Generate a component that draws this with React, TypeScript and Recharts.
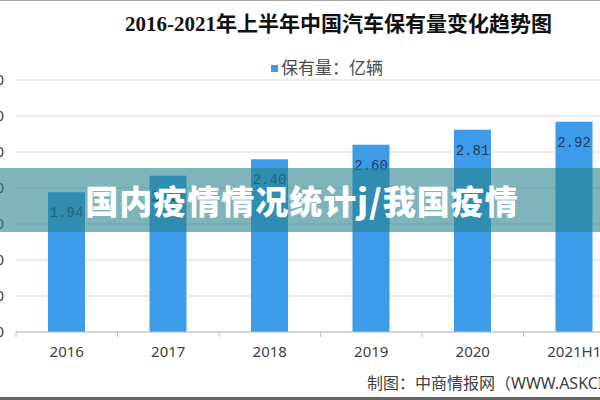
import { BarChart, Bar, XAxis, YAxis, CartesianGrid, LabelList } from "recharts";

const years = ["2016", "2017", "2018", "2019", "2020", "2021H1"];
const stock = [1.94, 2.17, 2.4, 2.6, 2.81, 2.92]; // 亿辆
const yTicks = [0, 0.5, 1, 1.5, 2, 2.5, 3, 3.5];

const title = "2016-2021年上半年中国汽车保有量变化趋势图";
const seriesName = "保有量：亿辆";
const banner = "国内疫情情况统计j/我国疫情";
const source = "制图：中商情报网（WWW.ASKCI.COM）";

const data = years.map((year, i) => ({ year, stock: stock[i] }));

const BAR = "#3d9be9";
const AXIS_W = 50;
const PLOT_W = 609;
const SANS = "'Noto Sans', 'Noto Sans CJK SC', sans-serif";

// category label + small tick mark on the left boundary of each band
function YearTick(props: any) {
  const { x, y, payload } = props;
  const half = payload?.offset || PLOT_W / years.length / 2;
  return (
    <g>
      <line x1={x - half} x2={x - half} y1={y} y2={y + 5} stroke="#bfbfbf" />
      <text x={x} y={y + 20} dy="0.35em" textAnchor="middle" fill="#404040" fontSize={15} fontFamily={SANS}>
        {payload.value}
      </text>
    </g>
  );
}

export default function App() {
  return (
    <div
      style={{
        position: "absolute",
        left: 0,
        top: 0,
        width: 600,
        height: 400,
        overflow: "hidden",
        background: "#fff",
        boxSizing: "border-box",
        borderTop: "1px solid #aaa",
        borderBottom: "3px solid #666",
      }}
    >
      <div style={{ position: "absolute", left: -34, top: -1 }}>
        <BarChart width={AXIS_W + PLOT_W} height={400} data={data} margin={{ top: 80, right: 0, bottom: 38, left: 0 }}>
          <CartesianGrid vertical={false} stroke="#d9d9d9" />
          <XAxis
            dataKey="year"
            height={30}
            axisLine={{ stroke: "#bfbfbf" }}
            tickLine={false}
            tickSize={0}
            tickMargin={0}
            interval={0}
            tick={<YearTick />}
          />
          <YAxis
            width={AXIS_W}
            domain={[0, 3.5]}
            ticks={yTicks}
            axisLine={false}
            tickLine={false}
            tickSize={6}
            tickMargin={6}
            tickFormatter={(v: number) => v.toFixed(2)}
            tick={{ fill: "#404040", fontSize: 15, fontFamily: SANS }}
          />
          <Bar dataKey="stock" fill={BAR} barSize={37} isAnimationActive={false}>
            <LabelList
              dataKey="stock"
              position="insideTop"
              offset={15}
              fill="#1f3864"
              fontSize={14}
              fontFamily="'Liberation Mono', monospace"
              formatter={(v: any) => Number(v).toFixed(2)}
            />
          </Bar>
        </BarChart>
      </div>

      <div
        style={{
          position: "absolute",
          left: 125,
          top: 13,
          fontSize: 21,
          lineHeight: "21px",
          fontWeight: 700,
          fontFamily: "'Liberation Serif', 'Noto Sans CJK SC', serif",
          color: "#111",
          whiteSpace: "nowrap",
        }}
      >
        {title}
      </div>

      <div style={{ position: "absolute", left: 271, top: 58, display: "flex", alignItems: "center", whiteSpace: "nowrap" }}>
        <span style={{ width: 7, height: 7, background: BAR, marginRight: 3 }} />
        <span style={{ fontSize: 17, lineHeight: "18px", fontFamily: SANS, color: "#4a4a4a" }}>{seriesName}</span>
      </div>

      <div
        style={{
          position: "absolute",
          left: 0,
          top: 167,
          width: 600,
          height: 64,
          background: "rgba(40,130,140,0.6)",
          color: "#fff",
          display: "flex",
          alignItems: "center",
          justifyContent: "center",
          paddingLeft: 4,
          boxSizing: "border-box",
          fontFamily: "'Noto Sans CJK SC', sans-serif",
          fontWeight: 900,
          fontSize: 33,
          letterSpacing: 1,
          whiteSpace: "nowrap",
        }}
      >
        {banner}
      </div>

      <div
        style={{
          position: "absolute",
          left: 367,
          top: 373,
          fontSize: 16,
          lineHeight: "18px",
          fontFamily: SANS,
          color: "#404040",
          whiteSpace: "nowrap",
        }}
      >
        {source}
      </div>
    </div>
  );
}
